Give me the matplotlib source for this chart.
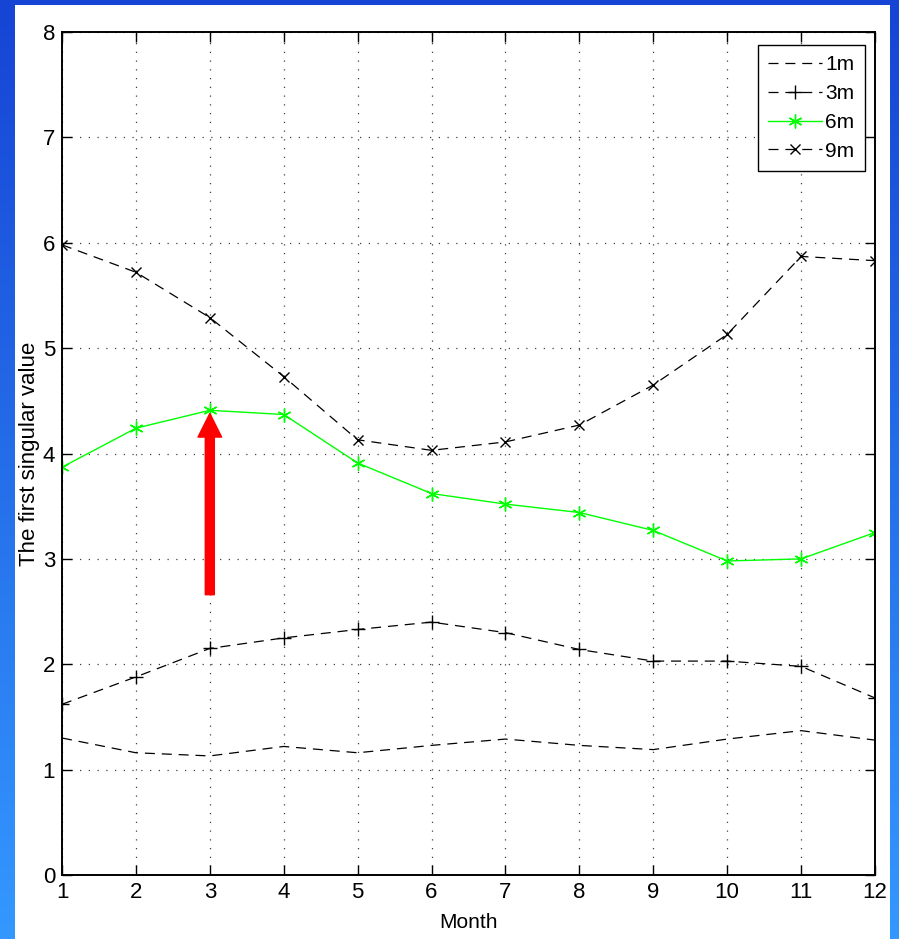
import numpy as np
import matplotlib
matplotlib.use("Agg")
import matplotlib.pyplot as plt
from matplotlib.patches import Rectangle


months = list(range(1, 13))
sv_1m = [1.30, 1.16, 1.13, 1.22, 1.16, 1.23, 1.29, 1.23, 1.19, 1.29, 1.37, 1.28]
sv_3m = [1.62, 1.88, 2.15, 2.25, 2.33, 2.40, 2.30, 2.14, 2.03, 2.03, 1.98, 1.68]
sv_6m = [3.87, 4.24, 4.41, 4.37, 3.91, 3.62, 3.52, 3.44, 3.27, 2.98, 3.00, 3.25]
sv_9m = [5.98, 5.72, 5.29, 4.73, 4.13, 4.03, 4.11, 4.27, 4.65, 5.13, 5.87, 5.83]
labels = ["1m", "3m", "6m", "9m"]

# arrow pointing at the 6m peak
arrow_x = 3
arrow_from = 2.66
arrow_to = 4.38

font = ["Liberation Sans", "DejaVu Sans"]

fig = plt.figure(figsize=(8.99, 9.39), dpi=100)

# blue slide background with white panel
bg = fig.add_axes([0, 0, 1, 1], zorder=-10)
top = np.array([22, 68, 212]) / 255
bot = np.array([52, 152, 255]) / 255
t = np.linspace(0, 1, 256)[:, None]
grad = (top * (1 - t) + bot * t)[:, None, :]
bg.imshow(grad, aspect="auto", extent=[0, 1, 0, 1], origin="upper")
bg.add_patch(Rectangle((15 / 899, 0), (890 - 15) / 899, (939 - 5) / 939,
                       facecolor="white", edgecolor="none"))
bg.set_xlim(0, 1)
bg.set_ylim(0, 1)
bg.axis("off")

ax = fig.add_axes([62 / 899, 64 / 939, (875 - 62) / 899, (875 - 32) / 939])

dash = (0, (8, 5.5))
asterisk = (6, 2, 0)
ax.plot(months, sv_1m, color="black", lw=0.9, linestyle=dash, label=labels[0])
ax.plot(months, sv_3m, color="black", lw=0.9, linestyle=dash, marker="+",
        ms=10, mew=1.0, label=labels[1])
ax.plot(months, sv_6m, color="#00ff00", lw=1.0, linestyle="-", marker=asterisk,
        ms=10, mew=1.0, label=labels[2])
ax.plot(months, sv_9m, color="black", lw=0.9, linestyle=dash, marker="x",
        ms=7, mew=1.0, label=labels[3])

ax.annotate("", xy=(arrow_x, arrow_to), xytext=(arrow_x, arrow_from),
            arrowprops=dict(arrowstyle="simple,head_length=17,head_width=17,tail_width=6.5",
                            mutation_scale=1, color="red", shrinkA=0, shrinkB=0),
            zorder=5)

ax.set_xlim(1, 12)
ax.set_ylim(0, 8)
ax.set_xticks(months)
ax.set_yticks(range(0, 9))
ax.grid(True, color="0.25", linestyle=(0, (1, 6)), linewidth=0.9)
ax.tick_params(direction="in", length=7, width=1, top=True, right=True,
               labelsize=16, pad=5)
for lab in ax.get_xticklabels() + ax.get_yticklabels():
    lab.set_family(font)
for s in ax.spines.values():
    s.set_linewidth(1.4)

ax.set_xlabel("Month", fontsize=15, family=font, labelpad=7)
ax.set_ylabel("The first singular value", fontsize=16, family=font)
ax.yaxis.set_label_coords(-22 / 813, 0.5)

leg = ax.legend(loc="upper right", bbox_to_anchor=(1 - 10 / 813, 1 - 13 / 843),
                borderaxespad=0, fancybox=False, edgecolor="black",
                framealpha=1, handlelength=2.6, handletextpad=0.15,
                borderpad=0.5, labelspacing=0.47,
                prop={"family": font, "size": 15})
leg.get_frame().set_linewidth(1.0)

fig.savefig("out.png", dpi=100)
